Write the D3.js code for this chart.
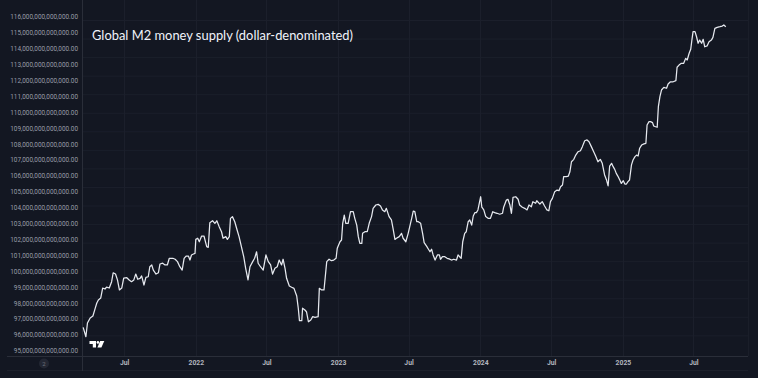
<!DOCTYPE html>
<html>
<head>
<meta charset="utf-8">
<script src="https://cdn.jsdelivr.net/npm/d3@7"></script>
<style>
  html, body { margin: 0; padding: 0; background: #131722; }
  svg { display: block; }
</style>
</head>
<body>
<div id="chart"></div>
<script>
// Global M2 (dollar-denominated), trillions of USD
const m2_2021 = [
  ["2021-03-18", 96.47], ["2021-03-25", 95.88], ["2021-03-29", 96.74], ["2021-04-05", 97.06], ["2021-04-12", 97.18],
  ["2021-04-18", 97.68], ["2021-04-22", 98.00], ["2021-04-26", 98.19], ["2021-05-02", 98.31], ["2021-05-07", 98.94],
  ["2021-05-13", 98.88], ["2021-05-17", 99.00], ["2021-05-24", 98.94], ["2021-05-30", 99.34], ["2021-06-03", 99.90],
  ["2021-06-09", 99.82], ["2021-06-14", 99.45], ["2021-06-19", 98.82], ["2021-06-25", 98.94], ["2021-06-30", 99.57],
  ["2021-07-08", 99.59], ["2021-07-14", 99.45], ["2021-07-20", 99.34], ["2021-07-26", 99.45], ["2021-07-31", 99.82],
  ["2021-08-05", 99.49], ["2021-08-11", 99.55], ["2021-08-15", 99.70], ["2021-08-21", 99.13], ["2021-08-26", 99.61],
  ["2021-09-01", 99.65], ["2021-09-05", 100.28], ["2021-09-10", 100.39], ["2021-09-14", 100.07], ["2021-09-21", 99.82],
  ["2021-09-27", 99.90], ["2021-10-01", 100.45], ["2021-10-08", 100.50], ["2021-10-14", 100.39], ["2021-10-20", 100.39],
  ["2021-10-25", 100.81], ["2021-11-03", 100.81], ["2021-11-09", 100.75], ["2021-11-15", 100.60], ["2021-11-21", 100.28],
  ["2021-11-27", 100.07], ["2021-12-02", 100.81], ["2021-12-07", 100.95], ["2021-12-13", 100.95], ["2021-12-17", 100.70],
  ["2021-12-21", 101.02], ["2021-12-26", 101.08], ["2021-12-30", 101.12]
];
const m2_2022 = [
  ["2022-01-01", 102.00], ["2022-01-06", 102.07], ["2022-01-10", 101.85], ["2022-01-16", 102.21], ["2022-01-22", 102.21],
  ["2022-01-29", 101.54], ["2022-02-02", 101.50], ["2022-02-06", 103.05], ["2022-02-13", 103.17], ["2022-02-19", 103.01],
  ["2022-02-24", 103.17], ["2022-03-02", 102.80], ["2022-03-08", 102.48], ["2022-03-12", 102.07], ["2022-03-19", 102.17],
  ["2022-03-23", 102.00], ["2022-03-28", 102.17], ["2022-03-31", 103.32], ["2022-04-05", 103.43], ["2022-04-11", 103.11],
  ["2022-04-17", 102.59], ["2022-04-22", 102.17], ["2022-04-28", 101.54], ["2022-05-04", 100.91], ["2022-05-09", 100.18],
  ["2022-05-15", 99.45], ["2022-05-20", 100.28], ["2022-05-27", 100.60], ["2022-06-01", 100.81], ["2022-06-06", 101.22],
  ["2022-06-10", 100.50], ["2022-06-16", 100.28], ["2022-06-23", 100.07], ["2022-06-30", 101.02], ["2022-07-06", 100.60],
  ["2022-07-12", 100.39], ["2022-07-17", 99.82], ["2022-07-23", 100.18], ["2022-07-29", 100.28], ["2022-08-03", 100.70],
  ["2022-08-09", 100.39], ["2022-08-13", 100.75], ["2022-08-18", 100.18], ["2022-08-22", 99.55], ["2022-08-29", 99.07],
  ["2022-09-04", 98.99], ["2022-09-10", 98.92], ["2022-09-17", 98.44], ["2022-09-21", 97.67], ["2022-09-24", 96.89],
  ["2022-09-30", 96.89], ["2022-10-02", 97.67], ["2022-10-08", 97.56], ["2022-10-12", 97.45], ["2022-10-17", 96.82],
  ["2022-10-23", 96.93], ["2022-10-28", 97.14], ["2022-11-03", 97.10], ["2022-11-11", 97.14], ["2022-11-14", 98.92],
  ["2022-11-20", 98.82], ["2022-11-26", 98.82], ["2022-12-03", 100.60], ["2022-12-09", 100.75], ["2022-12-15", 100.66],
  ["2022-12-21", 100.70], ["2022-12-27", 100.81], ["2022-12-30", 101.44]
];
const m2_2023 = [
  ["2023-01-06", 101.85], ["2023-01-10", 101.96], ["2023-01-13", 103.01], ["2023-01-17", 103.53], ["2023-01-21", 103.01],
  ["2023-01-27", 103.01], ["2023-02-02", 103.74], ["2023-02-09", 103.74], ["2023-02-13", 103.32], ["2023-02-18", 102.90],
  ["2023-02-22", 102.17], ["2023-02-26", 101.75], ["2023-03-03", 101.75], ["2023-03-05", 102.38], ["2023-03-11", 102.48],
  ["2023-03-17", 102.48], ["2023-03-22", 103.01], ["2023-03-28", 103.43], ["2023-04-01", 103.95], ["2023-04-08", 104.16],
  ["2023-04-14", 104.20], ["2023-04-20", 104.10], ["2023-04-25", 103.85], ["2023-05-01", 103.74], ["2023-05-05", 103.95],
  ["2023-05-12", 103.43], ["2023-05-18", 103.22], ["2023-05-22", 102.70], ["2023-05-27", 102.00], ["2023-05-31", 102.07],
  ["2023-06-07", 102.17], ["2023-06-13", 102.38], ["2023-06-17", 102.07], ["2023-06-24", 101.85], ["2023-06-30", 102.38],
  ["2023-07-04", 102.80], ["2023-07-09", 103.32], ["2023-07-13", 103.78], ["2023-07-17", 103.74], ["2023-07-22", 103.11],
  ["2023-07-26", 103.11], ["2023-08-01", 103.01], ["2023-08-06", 102.38], ["2023-08-10", 101.79], ["2023-08-17", 101.54],
  ["2023-08-21", 101.38], ["2023-08-25", 101.22], ["2023-08-29", 101.38], ["2023-09-02", 101.02], ["2023-09-07", 100.70],
  ["2023-09-13", 101.02], ["2023-09-18", 101.02], ["2023-09-21", 100.75], ["2023-09-26", 100.91], ["2023-10-02", 100.91],
  ["2023-10-08", 100.81], ["2023-10-13", 100.77], ["2023-10-19", 100.70], ["2023-10-25", 100.75], ["2023-11-01", 100.70],
  ["2023-11-05", 101.02], ["2023-11-09", 100.91], ["2023-11-13", 100.81], ["2023-11-17", 101.85], ["2023-11-22", 102.38],
  ["2023-11-26", 102.48], ["2023-12-01", 103.11], ["2023-12-05", 103.22], ["2023-12-10", 102.90], ["2023-12-14", 103.47],
  ["2023-12-18", 103.68], ["2023-12-22", 103.68], ["2023-12-26", 103.85]
];
const m2_2024 = [
  ["2024-01-02", 104.68], ["2024-01-05", 104.02], ["2024-01-10", 103.85], ["2024-01-15", 103.43], ["2024-01-21", 103.32],
  ["2024-01-27", 103.32], ["2024-02-02", 103.74], ["2024-02-07", 103.68], ["2024-02-13", 103.64], ["2024-02-20", 103.58],
  ["2024-02-27", 103.64], ["2024-03-01", 104.02], ["2024-03-08", 104.47], ["2024-03-12", 104.52], ["2024-03-17", 104.16],
  ["2024-03-21", 103.64], ["2024-03-25", 104.64], ["2024-04-01", 104.68], ["2024-04-07", 104.52], ["2024-04-11", 104.16],
  ["2024-04-18", 104.02], ["2024-04-24", 103.95], ["2024-04-30", 103.85], ["2024-05-05", 104.16], ["2024-05-11", 104.05],
  ["2024-05-15", 104.37], ["2024-05-22", 104.27], ["2024-05-25", 104.43], ["2024-06-02", 104.22], ["2024-06-08", 104.37],
  ["2024-06-14", 104.10], ["2024-06-20", 103.85], ["2024-06-25", 103.80], ["2024-06-29", 104.37], ["2024-07-04", 104.58],
  ["2024-07-10", 105.00], ["2024-07-16", 105.10], ["2024-07-21", 105.06], ["2024-07-25", 105.31], ["2024-07-30", 105.42],
  ["2024-08-02", 105.94], ["2024-08-09", 105.94], ["2024-08-14", 105.98], ["2024-08-18", 106.25], ["2024-08-22", 106.88],
  ["2024-08-28", 107.03], ["2024-09-02", 107.30], ["2024-09-08", 107.51], ["2024-09-14", 107.57], ["2024-09-19", 107.83],
  ["2024-09-25", 108.20], ["2024-10-01", 108.25], ["2024-10-06", 108.14], ["2024-10-12", 107.83], ["2024-10-18", 107.51],
  ["2024-10-23", 107.24], ["2024-10-29", 106.88], ["2024-11-04", 107.03], ["2024-11-09", 106.78], ["2024-11-15", 106.05],
  ["2024-11-20", 105.73], ["2024-11-24", 105.36], ["2024-11-28", 106.61], ["2024-12-03", 106.78], ["2024-12-07", 106.57],
  ["2024-12-11", 106.40], ["2024-12-15", 106.15], ["2024-12-19", 105.98], ["2024-12-24", 105.73], ["2024-12-28", 105.52]
];
const m2_2025 = [
  ["2025-01-02", 105.69], ["2025-01-06", 105.48], ["2025-01-10", 105.48], ["2025-01-14", 105.63], ["2025-01-18", 105.73],
  ["2025-01-23", 106.68], ["2025-01-27", 106.99], ["2025-02-01", 107.20], ["2025-02-05", 107.30], ["2025-02-09", 107.24],
  ["2025-02-13", 107.73], ["2025-02-18", 107.93], ["2025-02-24", 108.00], ["2025-03-01", 108.04], ["2025-03-04", 109.19],
  ["2025-03-09", 109.40], ["2025-03-13", 109.40], ["2025-03-18", 109.34], ["2025-03-21", 109.13], ["2025-03-26", 109.08],
  ["2025-03-30", 109.05], ["2025-04-02", 110.34], ["2025-04-06", 110.97], ["2025-04-10", 111.39], ["2025-04-16", 111.56],
  ["2025-04-23", 111.50], ["2025-04-27", 111.77], ["2025-05-03", 111.91], ["2025-05-10", 111.91], ["2025-05-17", 111.98],
  ["2025-05-20", 112.82], ["2025-05-25", 112.96], ["2025-05-31", 113.07], ["2025-06-06", 113.07], ["2025-06-11", 113.38],
  ["2025-06-15", 113.28], ["2025-06-20", 113.70], ["2025-06-24", 113.95], ["2025-06-27", 114.53], ["2025-06-30", 115.06],
  ["2025-07-05", 115.06], ["2025-07-09", 114.74], ["2025-07-13", 114.33], ["2025-07-17", 114.53], ["2025-07-22", 114.33],
  ["2025-07-26", 114.58], ["2025-07-30", 114.11], ["2025-08-05", 114.16], ["2025-08-10", 114.43], ["2025-08-16", 114.53],
  ["2025-08-20", 114.70], ["2025-08-25", 115.27], ["2025-08-31", 115.33], ["2025-09-07", 115.37], ["2025-09-13", 115.41],
  ["2025-09-17", 115.48], ["2025-09-22", 115.37]
];

// Ticks
const yTickValues = [95, 96, 97, 98, 99, 100, 101, 102, 103, 104, 105, 106, 107, 108, 109, 110, 111, 112, 113, 114, 115, 116];
const xTickDates = ["2021-07-01", "2022-01-01", "2022-07-01", "2023-01-01", "2023-07-01", "2024-01-01", "2024-07-01", "2025-01-01", "2025-07-01"];
const xTickLabels = ["Jul", "2022", "Jul", "2023", "Jul", "2024", "Jul", "2025", "Jul"];
const title = "Global M2 money supply (dollar-denominated)";

const parse = d3.timeParse("%Y-%m-%d");
const data = [].concat(m2_2021, m2_2022, m2_2023, m2_2024, m2_2025)
  .map(d => ({ date: parse(d[0]), value: d[1] }));

// Layout
const W = 758, H = 378;
const plotLeft = 82, plotRight = 748, axisY = 356;
const bg = "#131722", grid = "#1b1f2b", border = "#2a2e39";

const svg = d3.select("#chart").append("svg")
  .attr("width", W)
  .attr("height", H);

svg.append("rect").attr("width", W).attr("height", H).attr("fill", bg);

const x = d3.scaleTime()
  .domain([parse("2021-03-15"), parse("2025-11-18")])
  .range([plotLeft, plotRight]);

const y = d3.scaleLinear()
  .domain([95, 116])
  .range([350.7, 16.7]);

// horizontal grid (the source's grid is not tied to the price labels)
svg.append("g")
  .selectAll("line")
  .data(d3.range(18))
  .enter().append("line")
  .attr("x1", plotLeft).attr("x2", plotRight)
  .attr("y1", i => 20.5 + i * 18.55).attr("y2", i => 20.5 + i * 18.55)
  .attr("stroke", grid).attr("stroke-width", 1);

// vertical grid at time ticks
svg.append("g")
  .selectAll("line")
  .data(xTickDates)
  .enter().append("line")
  .attr("x1", d => Math.round(x(parse(d))) + 0.5).attr("x2", d => Math.round(x(parse(d))) + 0.5)
  .attr("y1", 0).attr("y2", axisY)
  .attr("stroke", grid).attr("stroke-width", 1);

// frame lines
svg.append("line").attr("x1", 7).attr("x2", plotRight).attr("y1", axisY + 0.5).attr("y2", axisY + 0.5)
  .attr("stroke", border);
svg.append("line").attr("x1", 7).attr("x2", plotRight).attr("y1", 370.5).attr("y2", 370.5)
  .attr("stroke", "#1c202b");
svg.append("line").attr("x1", plotLeft + 0.5).attr("x2", plotLeft + 0.5).attr("y1", 0).attr("y2", 371)
  .attr("stroke", border);
svg.append("line").attr("x1", plotRight + 0.5).attr("x2", plotRight + 0.5).attr("y1", 0).attr("y2", axisY)
  .attr("stroke", "#1a1e29");

// y axis labels
const fmt = d3.format(",.2f");
const yAxis = svg.append("g")
  .attr("transform", "translate(78,0)")
  .call(d3.axisLeft(y).tickValues(yTickValues).tickSize(0).tickPadding(0)
    .tickFormat(d => fmt(d * 1e12)));
yAxis.select(".domain").remove();
yAxis.selectAll("text")
  .attr("fill", "#9a9ea8")
  .attr("font-family", "Roboto, sans-serif")
  .attr("font-size", 6.4);

// x axis labels
const xAxis = svg.append("g")
  .attr("transform", `translate(0,${axisY})`)
  .call(d3.axisBottom(x).tickValues(xTickDates.map(parse)).tickSize(0).tickPadding(4)
    .tickFormat((d, i) => xTickLabels[i]));
xAxis.select(".domain").remove();
xAxis.selectAll("text")
  .attr("fill", "#b2b5be")
  .attr("font-family", "Roboto, sans-serif")
  .attr("font-weight", "bold")
  .attr("font-size", 6.8);

// the line
const line = d3.line()
  .x(d => x(d.date))
  .y(d => y(d.value));

svg.append("path")
  .datum(data)
  .attr("d", line)
  .attr("fill", "none")
  .attr("stroke", "#e6e9ef")
  .attr("stroke-width", 1.25)
  .attr("stroke-linejoin", "round");

// title
svg.append("text")
  .attr("x", 92)
  .attr("y", 39.5)
  .attr("fill", "#f0f3fa")
  .attr("font-family", "Lato, 'Open Sans', sans-serif")
  .attr("font-size", 13)
  .attr("textLength", 261)
  .attr("lengthAdjust", "spacingAndGlyphs")
  .text(title);

// small TradingView mark
const logo = svg.append("g").attr("fill", "#ffffff");
logo.append("path").attr("d", "M89.5,341 H96 V347.5 H92.8 V344 H89.5 Z");
logo.append("circle").attr("cx", 97.9).attr("cy", 342.4).attr("r", 1.3);
logo.append("path").attr("d", "M100.2,341 H104.3 L101.4,347.5 H97.4 Z");

// timezone-ish badge bottom left
svg.append("circle").attr("cx", 44).attr("cy", 363.5).attr("r", 5).attr("fill", "#232733");
svg.append("text").attr("x", 44).attr("y", 363.5).attr("dy", "0.35em")
  .attr("text-anchor", "middle")
  .attr("fill", "#6e717b")
  .attr("font-family", "Roboto, sans-serif")
  .attr("font-size", 6)
  .text("2");
</script>
</body>
</html>
